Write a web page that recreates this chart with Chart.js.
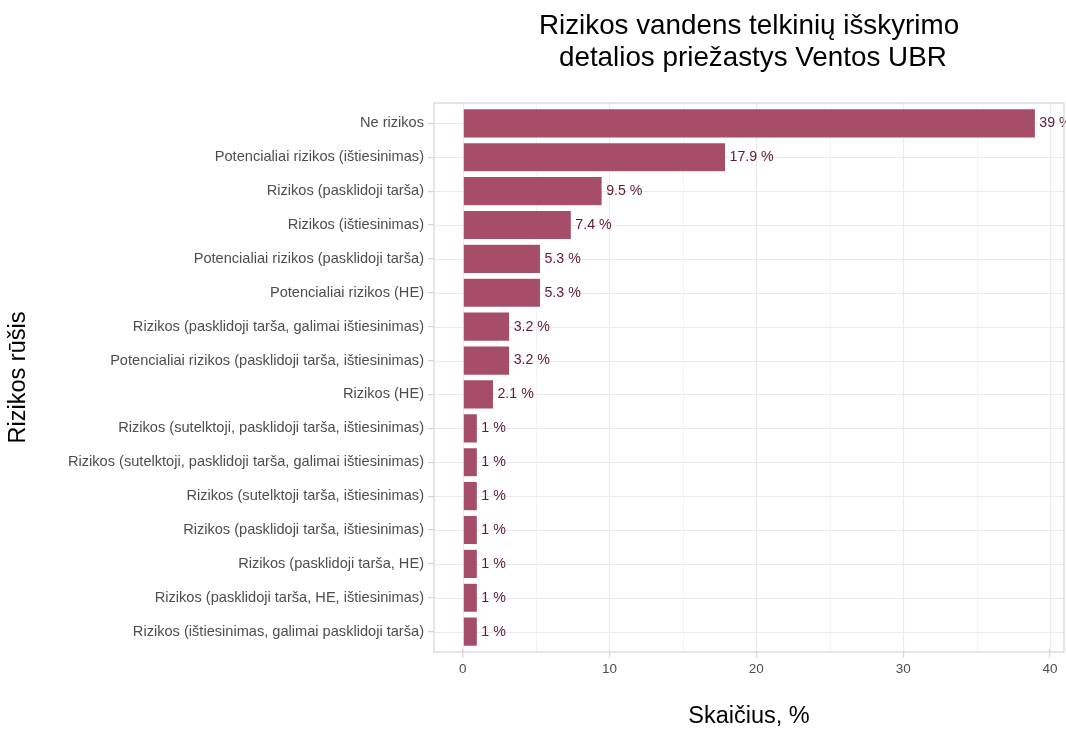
<!DOCTYPE html>
<html>
<head>
<meta charset="utf-8">
<script src="https://cdn.jsdelivr.net/npm/chart.js@4/dist/chart.umd.min.js"></script>
<style>
  body { margin: 0; background: #fff; }
  #wrap { width: 1066px; height: 731px; position: relative; }
</style>
</head>
<body>
<div id="wrap"><canvas id="riskChart"></canvas></div>
<script>
const titleLines = ['Rizikos vandens telkinių išskyrimo', ' detalios priežastys Ventos UBR'];

const categories = [
  'Ne rizikos',
  'Potencialiai rizikos (ištiesinimas)',
  'Rizikos (pasklidoji tarša)',
  'Rizikos (ištiesinimas)',
  'Potencialiai rizikos (pasklidoji tarša)',
  'Potencialiai rizikos (HE)',
  'Rizikos (pasklidoji tarša, galimai ištiesinimas)',
  'Potencialiai rizikos (pasklidoji tarša, ištiesinimas)',
  'Rizikos (HE)',
  'Rizikos (sutelktoji, pasklidoji tarša, ištiesinimas)',
  'Rizikos (sutelktoji, pasklidoji tarša, galimai ištiesinimas)',
  'Rizikos (sutelktoji tarša, ištiesinimas)',
  'Rizikos (pasklidoji tarša, ištiesinimas)',
  'Rizikos (pasklidoji tarša, HE)',
  'Rizikos (pasklidoji tarša, HE, ištiesinimas)',
  'Rizikos (ištiesinimas, galimai pasklidoji tarša)'
];

const shares = [39, 17.9, 9.5, 7.4, 5.3, 5.3, 3.2, 3.2, 2.1, 1, 1, 1, 1, 1, 1, 1];

const xTicks = [0, 5, 10, 15, 20, 25, 30, 35, 40];
const xMin = -1.95;
const xMax = 40.95;

const barColor = '#a64e67';
const labelColor = '#5e1a36';
const gridColor = '#ebebeb';
const borderColor = '#d4d4d4';
const fontFamily = '"Liberation Sans", Arial, Helvetica, sans-serif';

// ggplot-like panel: border + grid, drawn from the scales
const panelPlugin = {
  id: 'panel',
  beforeDatasetsDraw(chart) {
    const { ctx, chartArea: a, scales } = chart;
    const step = scales.y.height / categories.length;
    const top = a.top - step * 0.1;
    const bottom = a.bottom + step * 0.1;
    ctx.save();
    ctx.strokeStyle = gridColor;
    xTicks.forEach(v => {
      const x = Math.round(scales.x.getPixelForValue(v)) + 0.5;
      ctx.lineWidth = v % 10 === 0 ? 1.2 : 0.6;
      ctx.beginPath();
      ctx.moveTo(x, top);
      ctx.lineTo(x, bottom);
      ctx.stroke();
    });
    ctx.lineWidth = 1.2;
    categories.forEach((c, i) => {
      const y = Math.round(scales.y.getPixelForValue(i)) + 0.5;
      ctx.beginPath();
      ctx.moveTo(a.left, y);
      ctx.lineTo(a.right, y);
      ctx.stroke();
    });
    ctx.restore();
  },
  afterDraw(chart) {
    const { ctx, chartArea: a, scales } = chart;
    const step = scales.y.height / categories.length;
    ctx.save();
    ctx.strokeStyle = borderColor;
    ctx.lineWidth = 1.2;
    ctx.strokeRect(a.left, a.top - step * 0.1, a.right - a.left, a.bottom - a.top + step * 0.2);

    // title centred over the panel
    ctx.fillStyle = '#000';
    ctx.font = '27.8px ' + fontFamily;
    ctx.textAlign = 'center';
    ctx.textBaseline = 'middle';
    const cx = (a.left + a.right) / 2;
    titleLines.forEach((t, i) => ctx.fillText(t, cx, 26 + i * 32));
    ctx.restore();
  }
};

const valueLabels = {
  id: 'valueLabels',
  afterDatasetsDraw(chart) {
    const { ctx } = chart;
    const meta = chart.getDatasetMeta(0);
    ctx.save();
    ctx.fillStyle = labelColor;
    ctx.font = '14.2px ' + fontFamily;
    ctx.textAlign = 'left';
    ctx.textBaseline = 'middle';
    meta.data.forEach((bar, i) => {
      ctx.fillText(shares[i] + ' %', bar.x + 4, bar.y);
    });
    ctx.restore();
  }
};

new Chart(document.getElementById('riskChart'), {
  type: 'bar',
  data: {
    labels: categories,
    datasets: [{
      data: shares,
      backgroundColor: barColor,
      borderColor: 'rgba(255,255,255,0.35)',
      borderWidth: 0.5,
      borderSkipped: false,
      barPercentage: 0.86,
      categoryPercentage: 1
    }]
  },
  options: {
    indexAxis: 'y',
    responsive: true,
    maintainAspectRatio: false,
    animation: false,
    layout: { padding: { top: 106.4, right: 2, left: 0, bottom: 0 } },
    plugins: {
      legend: { display: false },
      tooltip: { enabled: false }
    },
    scales: {
      x: {
        type: 'linear',
        min: xMin,
        max: xMax,
        afterBuildTicks: scale => { scale.ticks = xTicks.map(v => ({ value: v })); },
        afterFit: scale => { scale.height = 82.4; },
        border: { display: false },
        grid: {
          drawOnChartArea: false,
          drawTicks: true,
          tickLength: 9,
          color: c => (c.tick && c.tick.value % 10 === 0 ? borderColor : 'rgba(0,0,0,0)'),
          lineWidth: 1.2
        },
        ticks: {
          padding: 4,
          color: '#4d4d4d',
          font: { size: 13.5, family: fontFamily },
          callback: v => (v % 10 === 0 ? v : '')
        },
        title: {
          display: true,
          text: 'Skaičius, %',
          color: '#000',
          font: { size: 23.5, family: fontFamily },
          padding: { top: 0, bottom: 0 }
        }
      },
      y: {
        afterFit: scale => { scale.width = 434; },
        border: { display: false },
        grid: { drawOnChartArea: false, drawTicks: true, tickLength: 6, offset: false, color: borderColor, lineWidth: 1.2 },
        ticks: {
          padding: 4,
          color: '#4d4d4d',
          font: { size: 14.6, family: fontFamily },
          autoSkip: false
        },
        title: {
          display: true,
          text: 'Rizikos rūšis',
          color: '#000',
          font: { size: 23.5, family: fontFamily },
          padding: { top: 4, bottom: 0 }
        }
      }
    }
  },
  plugins: [panelPlugin, valueLabels]
});
</script>
</body>
</html>
